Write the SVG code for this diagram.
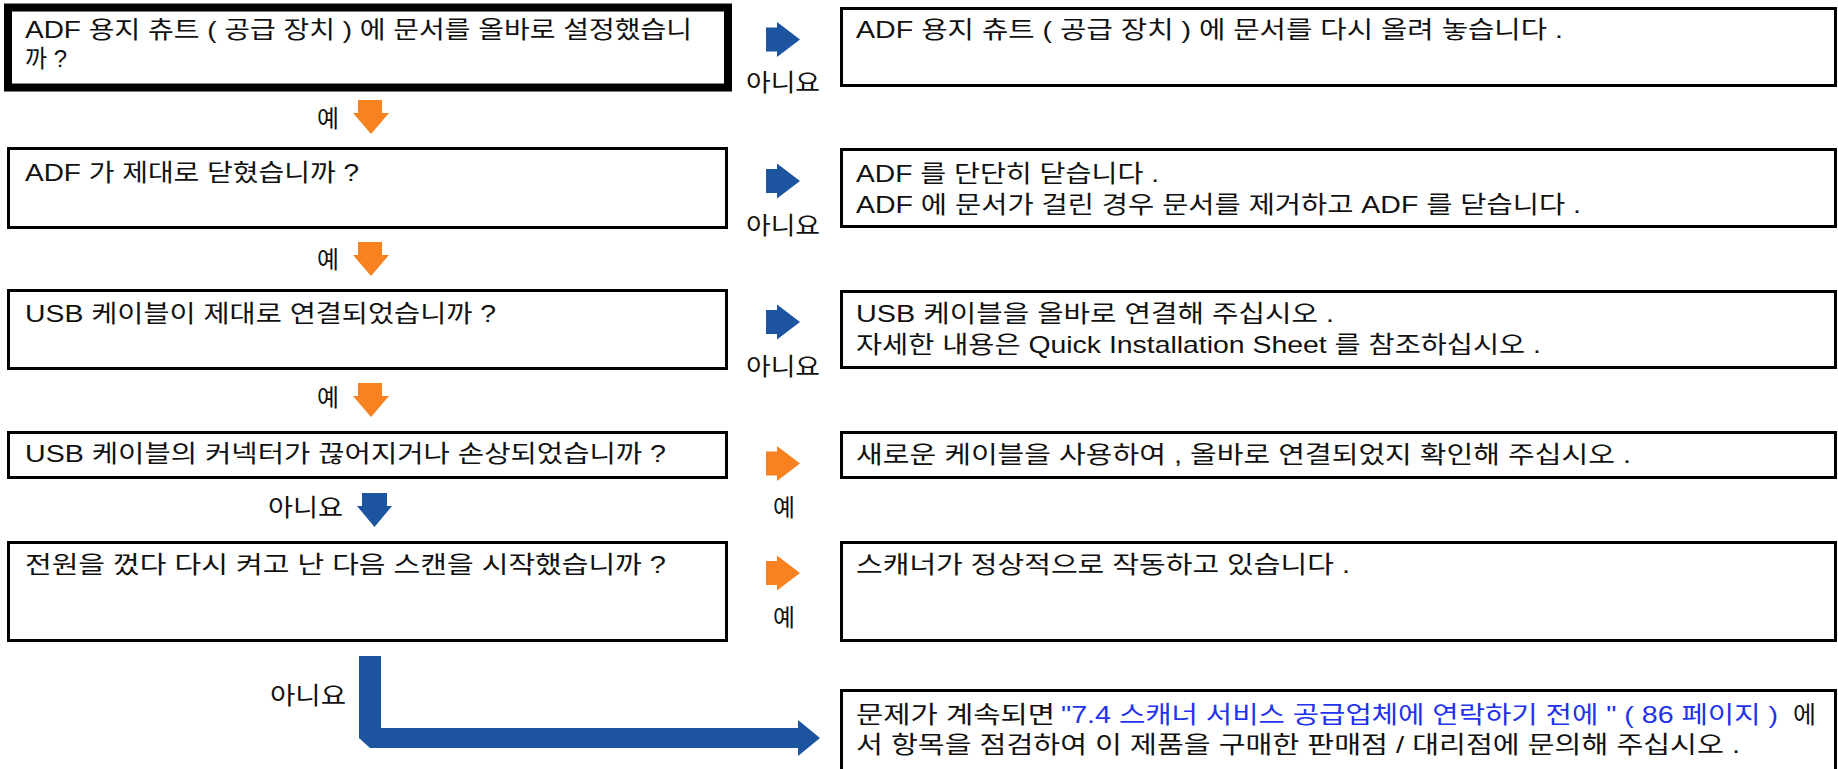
<svg xmlns="http://www.w3.org/2000/svg" width="1838" height="769" viewBox="0 0 1838 769">
<style>
.t{font-family:'Liberation Sans','Noto Sans CJK KR',sans-serif;font-size:24px;fill:#111}
.lk{fill:#2233ee}
.box{fill:#fff;stroke:#000;stroke-width:3}
.thick{fill:#fff;stroke:#000;stroke-width:8}
.blue{fill:#1c54a0}
.orange{fill:#f7821f}
</style>
<rect width="1838" height="769" fill="#fff"/>
<g id="connectors">
<polygon class="blue" points="766,27.5 777,27.5 777,22 800,39.5 777,57 777,51.5 766,51.5"/>
<polygon class="blue" points="766,169 777,169 777,163.5 800,181 777,198.5 777,193 766,193"/>
<polygon class="blue" points="766,310 777,310 777,304.5 800,322 777,339.5 777,334 766,334"/>
<polygon class="orange" points="766,451.5 777,451.5 777,446 800,463.5 777,481 777,475.5 766,475.5"/>
<polygon class="orange" points="766,561 777,561 777,555.5 800,573 777,590.5 777,585 766,585"/>
<polygon class="orange" points="358,100 382,100 382,113 389,113 371,134 353,113 358,113"/>
<polygon class="orange" points="358,242 382,242 382,255 389,255 371,276 353,255 358,255"/>
<polygon class="orange" points="358,383 382,383 382,396 389,396 371,417 353,396 358,396"/>
<polygon class="blue" points="362,493 387,493 387,506 392,506 374.5,527 357,506 362,506"/>
<polygon class="blue" points="359,656 381,656 381,728 798,728 798,720 820,738 798,756 798,748 370,748 359,738"/>
<text class="t" x="746" y="91" textLength="74" lengthAdjust="spacingAndGlyphs">아니요</text>
<text class="t" x="746" y="234" textLength="74" lengthAdjust="spacingAndGlyphs">아니요</text>
<text class="t" x="746" y="375" textLength="74" lengthAdjust="spacingAndGlyphs">아니요</text>
<text class="t" x="773" y="516" textLength="22" lengthAdjust="spacingAndGlyphs">예</text>
<text class="t" x="773" y="626" textLength="22" lengthAdjust="spacingAndGlyphs">예</text>
<text class="t" x="317" y="127" textLength="22" lengthAdjust="spacingAndGlyphs">예</text>
<text class="t" x="317" y="268" textLength="22" lengthAdjust="spacingAndGlyphs">예</text>
<text class="t" x="317" y="406" textLength="22" lengthAdjust="spacingAndGlyphs">예</text>
<text class="t" x="268" y="516" textLength="75" lengthAdjust="spacingAndGlyphs">아니요</text>
<text class="t" x="270" y="704" textLength="76" lengthAdjust="spacingAndGlyphs">아니요</text>
</g>
<g id="q1">
<rect class="thick" x="8" y="7.5" width="720" height="80"/>
<text class="t" x="25" y="38" textLength="667" lengthAdjust="spacingAndGlyphs">ADF 용지 츄트 ( 공급 장치 ) 에 문서를 올바로 설정했습니</text>
<text class="t" x="25" y="67" textLength="42" lengthAdjust="spacingAndGlyphs">까 ?</text>
</g>
<g id="a1">
<rect class="box" x="841.5" y="8.5" width="994" height="77"/>
<text class="t" x="856" y="38" textLength="707" lengthAdjust="spacingAndGlyphs">ADF 용지 츄트 ( 공급 장치 ) 에 문서를 다시 올려 놓습니다 .</text>
</g>
<g id="q2">
<rect class="box" x="8.5" y="148.5" width="718" height="79"/>
<text class="t" x="25" y="181" textLength="334" lengthAdjust="spacingAndGlyphs">ADF 가 제대로 닫혔습니까 ?</text>
</g>
<g id="a2">
<rect class="box" x="841.5" y="149.5" width="994" height="77"/>
<text class="t" x="856" y="182" textLength="303" lengthAdjust="spacingAndGlyphs">ADF 를 단단히 닫습니다 .</text>
<text class="t" x="856" y="213" textLength="725" lengthAdjust="spacingAndGlyphs">ADF 에 문서가 걸린 경우 문서를 제거하고 ADF 를 닫습니다 .</text>
</g>
<g id="q3">
<rect class="box" x="8.5" y="290.5" width="718" height="78"/>
<text class="t" x="25" y="322" textLength="471" lengthAdjust="spacingAndGlyphs">USB 케이블이 제대로 연결되었습니까 ?</text>
</g>
<g id="a3">
<rect class="box" x="841.5" y="291.5" width="994" height="76"/>
<text class="t" x="856" y="322" textLength="478" lengthAdjust="spacingAndGlyphs">USB 케이블을 올바로 연결해 주십시오 .</text>
<text class="t" x="856" y="353" textLength="685" lengthAdjust="spacingAndGlyphs">자세한 내용은 Quick Installation Sheet 를 참조하십시오 .</text>
</g>
<g id="q4">
<rect class="box" x="8.5" y="432.5" width="718" height="45"/>
<text class="t" x="25" y="462" textLength="641" lengthAdjust="spacingAndGlyphs">USB 케이블의 커넥터가 끊어지거나 손상되었습니까 ?</text>
</g>
<g id="a4">
<rect class="box" x="841.5" y="432.5" width="994" height="45"/>
<text class="t" x="856" y="463" textLength="775" lengthAdjust="spacingAndGlyphs">새로운 케이블을 사용하여 , 올바로 연결되었지 확인해 주십시오 .</text>
</g>
<g id="q5">
<rect class="box" x="8.5" y="542.5" width="718" height="98"/>
<text class="t" x="25" y="573" textLength="641" lengthAdjust="spacingAndGlyphs">전원을 껐다 다시 켜고 난 다음 스캔을 시작했습니까 ?</text>
</g>
<g id="a5">
<rect class="box" x="841.5" y="542.5" width="994" height="98"/>
<text class="t" x="856" y="573" textLength="494" lengthAdjust="spacingAndGlyphs">스캐너가 정상적으로 작동하고 있습니다 .</text>
</g>
<g id="a6">
<rect class="box" x="841.5" y="690.5" width="994" height="100"/>
<text class="t" x="856" y="723" textLength="199" lengthAdjust="spacingAndGlyphs">문제가 계속되면</text>
<text class="t lk" x="1061" y="723" textLength="717" lengthAdjust="spacingAndGlyphs">"7.4 스캐너 서비스 공급업체에 연락하기 전에 " ( 86 페이지 )</text>
<text class="t" x="1793" y="723" textLength="23" lengthAdjust="spacingAndGlyphs">에</text>
<text class="t" x="856" y="753" textLength="884" lengthAdjust="spacingAndGlyphs">서 항목을 점검하여 이 제품을 구매한 판매점 / 대리점에 문의해 주십시오 .</text>
</g>
</svg>
